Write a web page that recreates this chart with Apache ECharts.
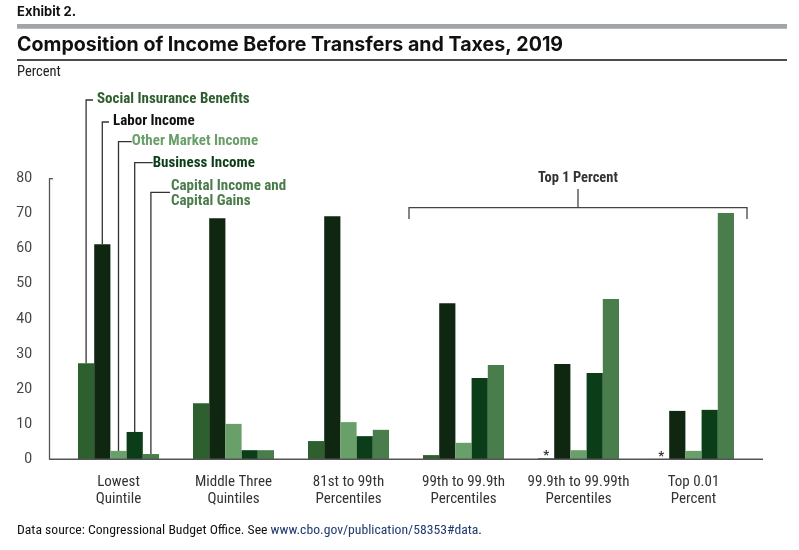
<!DOCTYPE html>
<html>
<head>
<meta charset="utf-8">
<script src="https://cdn.jsdelivr.net/npm/echarts@6/dist/echarts.min.js"></script>
<style>
html,body{margin:0;padding:0;background:#fff;}
#chart{width:799px;height:550px;}
</style>
</head>
<body>
<div id="chart"></div>
<script>
const categories = ['Lowest\nQuintile', 'Middle Three\nQuintiles', '81st to 99th\nPercentiles', '99th to 99.9th\nPercentiles', '99.9th to 99.99th\nPercentiles', 'Top 0.01\nPercent'];
const seriesNames = ['Social Insurance Benefits', 'Labor Income', 'Other Market Income', 'Business Income', 'Capital Income and\nCapital Gains'];
const socialInsurance = [27.4, 16.0, 5.2, 1.2, 0.3, 0.1];
const laborIncome = [61.3, 68.7, 69.3, 44.5, 27.2, 13.8];
const otherMarket = [2.4, 10.1, 10.6, 4.7, 2.6, 2.4];
const businessIncome = [7.8, 2.6, 6.6, 23.2, 24.6, 14.1];
const capitalIncome = [1.5, 2.6, 8.4, 26.9, 45.7, 70.2];
const yTickLabels = ['0', '10', '20', '30', '40', '50', '60', '70', '80'];
const bracketLabel = 'Top 1 Percent';
const bracketFrom = 3, bracketTo = 5;

const colors = ['#2e5f2f', '#0f2610', '#69a06a', '#0b3d18', '#4a7d4c'];
const textColors = ['#2e5e2e', '#111111', '#6a9f6a', '#0b3d17', '#4a7c4c'];
const COND = "'Roboto Condensed', 'Roboto', sans-serif";
const ROB = "'Roboto', sans-serif";
const TITLEF = "'Inter', 'Roboto', sans-serif";

const allSeries = [socialInsurance, laborIncome, otherMarket, businessIncome, capitalIncome];
const BW = 16.2;

const chart = echarts.init(document.getElementById('chart'), null, {renderer: 'canvas'});
const option = {
  animation: false,
  backgroundColor: '#fff',
  grid: {left: 61, right: 48, top: 178.7, bottom: 90.7, containLabel: false},
  xAxis: {
    type: 'category', data: categories,
    axisLine: {show: false}, axisTick: {show: false},
    axisLabel: {fontFamily: COND, fontSize: 15, lineHeight: 17.5, color: '#333', margin: 14, interval: 0}
  },
  yAxis: {
    type: 'value', min: 0, max: 80, interval: 10, offset: 12,
    axisLine: {show: true, lineStyle: {color: '#555', width: 1.3}},
    axisTick: {show: false}, splitLine: {show: false},
    axisLabel: {fontFamily: ROB, fontSize: 14, color: '#444', margin: 17,
      formatter: function (v) { return yTickLabels[Math.round(v / 10)]; }}
  },
  series: allSeries.map(function (d, i) {
    const s = {
      name: seriesNames[i], type: 'bar', data: d, barWidth: BW, barGap: '0%',
      itemStyle: {color: colors[i]}
    };
    if (i === 0) {
      s.label = {show: true, position: 'top', distance: 0, offset: [0, 4], fontSize: 13, fontWeight: 'bold', color: '#333',
        fontFamily: ROB,
        formatter: function (p) { return p.value < 0.5 ? '*' : ''; }};
    }
    return s;
  })
};
chart.setOption(option);

// build annotations from axis coordinates
const g = [];
const y0 = chart.convertToPixel({gridIndex: 0}, [0, 0])[1];
const y80 = chart.convertToPixel({gridIndex: 0}, [0, 80])[1];
const axisX = 61 - 12;
const c0 = chart.convertToPixel({gridIndex: 0}, [0, 0])[0];
const c1 = chart.convertToPixel({gridIndex: 0}, [1, 0])[0];
const catW = c1 - c0;

// x axis line & top tick
g.push({type: 'line', shape: {x1: axisX, y1: y0, x2: 763, y2: y0}, style: {stroke: '#555', lineWidth: 1.5}, z: 10});
g.push({type: 'line', shape: {x1: axisX, y1: y80, x2: axisX + 4, y2: y80}, style: {stroke: '#555', lineWidth: 1.3}, z: 10});

// header
g.push({type: 'text', x: 17, y: 12.5, style: {text: 'Exhibit 2.', font: "bold 13px " + TITLEF, fill: '#111', textVerticalAlign: 'middle'}});
g.push({type: 'rect', shape: {x: 17, y: 24, width: 770, height: 4.7}, style: {fill: '#a2a5a7'}});
g.push({type: 'text', x: 17, y: 45.5, style: {text: 'Composition of Income Before Transfers and Taxes, 2019', font: "bold 19.6px " + TITLEF, fill: '#111', textVerticalAlign: 'middle'}});
g.push({type: 'line', shape: {x1: 17, y1: 60, x2: 787, y2: 60}, style: {stroke: '#111', lineWidth: 1.5}});
g.push({type: 'text', x: 17, y: 72.5, style: {text: 'Percent', font: "14.5px " + COND, fill: '#222', textVerticalAlign: 'middle'}});

// legend leader lines from the first group bars
const rowY = [100, 122, 141.7, 162.7, 192.3];
const hEnd = [93, 109, 131.7, 152.7, 170];
const textX = [97, 113, 131.7, 152.7, 171];
const textY = [99.5, 121.7, 141.7, 163, 194.2];
for (let i = 0; i < 5; i++) {
  const bx = c0 + (i - 2) * BW;
  const by = chart.convertToPixel({gridIndex: 0}, [0, allSeries[i][0]])[1];
  g.push({type: 'polyline', shape: {points: [[bx, by], [bx, rowY[i]], [hEnd[i], rowY[i]]]}, style: {stroke: '#333', lineWidth: 1.3, fill: null}});
  g.push({type: 'text', x: textX[i], y: textY[i], style: {text: seriesNames[i], font: "bold 15px " + COND, fill: textColors[i], textVerticalAlign: 'middle', lineHeight: 15}});
}

// bracket over top 1 percent
const bL = chart.convertToPixel({gridIndex: 0}, [bracketFrom, 0])[0] - catW / 2 + 3;
const bR = chart.convertToPixel({gridIndex: 0}, [bracketTo, 0])[0] + catW / 2 - 4;
const bM = (bL + bR) / 2;
g.push({type: 'polyline', shape: {points: [[bL, 219], [bL, 207.7], [bR, 207.7], [bR, 219]]}, style: {stroke: '#444', lineWidth: 1.3, fill: null}});
g.push({type: 'line', shape: {x1: bM, y1: 207.7, x2: bM, y2: 189}, style: {stroke: '#444', lineWidth: 1.3}});
g.push({type: 'text', x: bM, y: 178.5, style: {text: bracketLabel, font: "bold 14.5px " + COND, fill: '#333', textAlign: 'center', textVerticalAlign: 'middle'}});

// footer
g.push({type: 'text', x: 17, y: 531, style: {
  text: '{a|Data source: Congressional Budget Office. See }{b|www.cbo.gov/publication/58353#data}{a|.}',
  textVerticalAlign: 'middle',
  rich: {a: {fontFamily: COND, fontSize: 13.7, fill: '#111', color: '#111'}, b: {fontFamily: COND, fontSize: 13.7, fill: '#1f3a70', color: '#1f3a70'}}
}});

chart.setOption({graphic: {elements: g}});
</script>
</body>
</html>
